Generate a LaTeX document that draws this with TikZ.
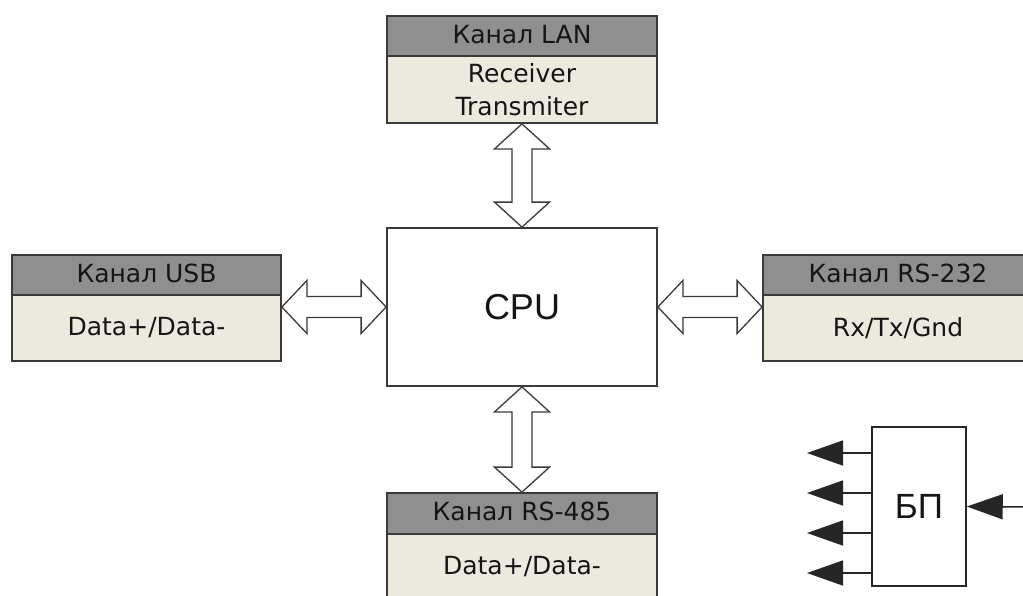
\documentclass[tikz,border=0pt]{standalone}
\usepackage{fontspec}
\setmainfont{DejaVu Sans}
\newfontfamily\arialf{Liberation Sans}
\usetikzlibrary{arrows.meta,calc}
\definecolor{hdrgray}{HTML}{8F8F8F}
\definecolor{bodybg}{HTML}{ECEADF}
\definecolor{edge}{HTML}{3A3A3A}
\definecolor{txt}{HTML}{151515}
\begin{document}
\begin{tikzpicture}[x=1pt,y=-1pt,
  hdr/.style={draw=edge,line width=1.8pt,fill=hdrgray,minimum width=270pt,minimum height=40pt,inner sep=0pt,font=\fontsize{25}{28}\selectfont,text=txt,text height=18pt,text depth=4pt},
  bodyb/.style={draw=edge,line width=1.8pt,fill=bodybg,minimum width=270pt,minimum height=66pt,inner sep=0pt,font=\fontsize{25}{33}\selectfont,text=txt,align=center},
  cpubox/.style={draw=edge,line width=1.8pt,fill=white,minimum width=270pt,minimum height=158pt,inner sep=0pt,font=\arialf\fontsize{36}{40}\selectfont,text=txt},
  psbox/.style={draw=black!85,line width=1.5pt,fill=white,minimum width=94pt,minimum height=159pt,inner sep=0pt,font=\arialf\fontsize{35}{40}\selectfont,text=txt},
  dblarrow/.style={draw=edge,line width=1.3pt,fill=white,line join=miter},
  pwr/.style={draw=black!85,line width=1.5pt,-{Triangle[length=36pt,width=25pt]}}
]
\useasboundingbox (0,0) rectangle (1023,595);
\clip (0,0) rectangle (1023,595);

% CPU
\node[cpubox] (cpu) at (522,307) {CPU};

% LAN
\node[hdr] (lanh) at (522,36) {Канал LAN};
\node[bodyb,minimum height=67pt] (lanb) at (522,89.5) {Receiver\\Transmiter};

% USB
\node[hdr,minimum width=269pt] (usbh) at (146.5,275) {Канал USB};
\node[bodyb,minimum width=269pt] (usbb) at (146.5,328) {Data+/Data-};

% RS-232
\node[hdr] (rs232h) at (898,275) {Канал RS-232};
\node[bodyb] (rs232b) at (898,328) {Rx/Tx/Gnd};

% RS-485
\node[hdr,minimum height=41pt] (rs485h) at (522,513.5) {Канал RS-485};
\node[bodyb] (rs485b) at (522,567) {Data+/Data-};

% double arrows
\draw[dblarrow] (lanb.south) -- ++(27.5,25) -- ++(-17.5,0) -- ($(cpu.north)+(10,-25)$) -- ++(17.5,0) -- (cpu.north) -- ++(-27.5,-25) -- ++(17.5,0) -- ($(lanb.south)+(-10,25)$) -- ++(-17.5,0) -- cycle;
\draw[dblarrow] (cpu.south) -- ++(27.5,25) -- ++(-17.5,0) -- ($(rs485h.north)+(10,-25)$) -- ++(17.5,0) -- (rs485h.north) -- ++(-27.5,-25) -- ++(17.5,0) -- ($(cpu.south)+(-10,25)$) -- ++(-17.5,0) -- cycle;
\draw[dblarrow] (cpu.west) -- ++(-25,-26.5) -- ++(0,16) -- ($(usbb.east |- cpu.west)+(25,-10.5)$) -- ++(0,-16) -- (usbb.east |- cpu.west) -- ++(25,26.5) -- ++(0,-16) -- ($(cpu.west)+(-25,10.5)$) -- ++(0,16) -- cycle;
\draw[dblarrow] (cpu.east) -- ++(25,-26.5) -- ++(0,16) -- ($(rs232b.west |- cpu.east)+(-25,-10.5)$) -- ++(0,-16) -- (rs232b.west |- cpu.east) -- ++(-25,26.5) -- ++(0,-16) -- ($(cpu.east)+(25,10.5)$) -- ++(0,16) -- cycle;

% power supply
\node[psbox] (bp) at (919,506.5) {БП};
\coordinate (o1) at (807,453);
\coordinate (o2) at (807,493);
\coordinate (o3) at (807,533);
\coordinate (o4) at (807,573);
\coordinate (pin) at (1030,507);
\foreach \o in {o1,o2,o3,o4} \draw[pwr] (bp.west |- \o) -- (\o);
\draw[pwr] (pin) -- (bp.east);
\end{tikzpicture}
\end{document}
